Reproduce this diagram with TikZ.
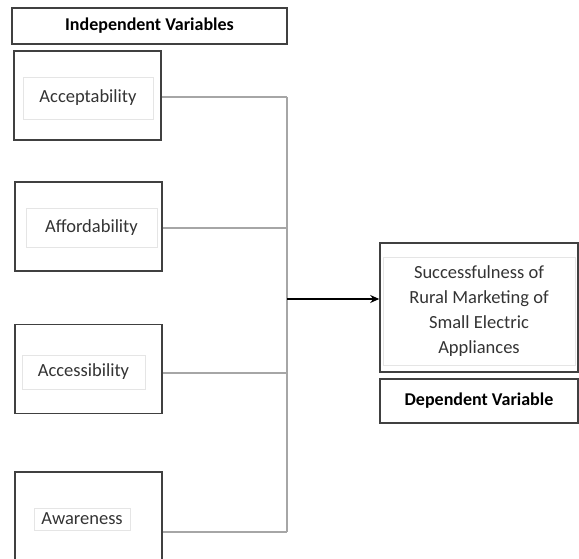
\documentclass[tikz,border=0pt]{standalone}
\usepackage{fontspec}
\setmainfont{Carlito}
\usetikzlibrary{positioning, arrows.meta}

\begin{document}
\begin{tikzpicture}[x = 1pt, y = -1pt,
		varbox/.style = {draw = black!75, line width = 1.6pt, minimum width = 147pt, minimum height = 89pt, inner sep = 0pt},
		textbox/.style = {draw = black!10, line width = 0.6pt, text = black!80, font = \fontsize{18.5}{25}\selectfont},
		headbox/.style = {draw = black!75, line width = 1.6pt, inner sep = 0pt, font = \bfseries\fontsize{18}{22}\selectfont},
		link/.style = {draw = black!35, line width = 1.4pt}]
	\useasboundingbox (0,0) rectangle (579,559);

	\begin{scope}
		\node [headbox, minimum width = 275pt, minimum height = 36pt] (indep) at (149.5,26) {Independent Variables};

		\node [varbox] (accept) at (87.5,95.5) {};
		\node [varbox] (afford) at (88.5,226.5) {};
		\node [varbox] (access) at (88.5,369) {};
		\node [varbox, minimum height = 92pt] (aware) at (88.5,518) {};

		\node [textbox, minimum width = 130pt, minimum height = 42pt] (acceptT) at (88,98) {Acceptability};
		\node [textbox, minimum width = 131pt, minimum height = 39pt] (affordT) at (91.5,227.5) {Affordability};
		\node [textbox, minimum width = 123pt, minimum height = 34pt] (accessT) at (83.5,372) {Accessibility};
		\node [textbox, minimum width = 96pt, minimum height = 22pt, inner sep = 1pt] (awareT) at (82,519) {Awareness};
	\end{scope}

	\begin{scope}
		\node [varbox, minimum width = 198pt, minimum height = 129pt] (succ) at (479,307.5) {};
		\node [textbox, minimum width = 192pt, minimum height = 108pt, align = center] (succT) at (479,311)
			{Successfulness of\\Rural Marketing of\\Small Electric\\Appliances};
		\node [headbox, minimum width = 198pt, minimum height = 44pt] (dep) at (479,401) {Dependent Variable};
	\end{scope}

	% lines into the bus
	\coordinate (busTop) at (287,97);
	\coordinate (busBottom) at (287,532);
	\coordinate (busMid) at (287,299);
	\begin{scope}[link]
		\draw (accept.east |- busTop) -- (busTop);
		\draw (afford.east |- 0,228) -- (287,228);
		\draw (access.east |- 0,373) -- (287,373);
		\draw (aware.east |- busBottom) -- (busBottom);
		\draw (busTop) -- (busBottom);
	\end{scope}

	\draw [-{Stealth[length = 9pt, width = 8pt]}, line width = 1.5pt] (busMid) -- (succ.west |- busMid);
\end{tikzpicture}
\end{document}
